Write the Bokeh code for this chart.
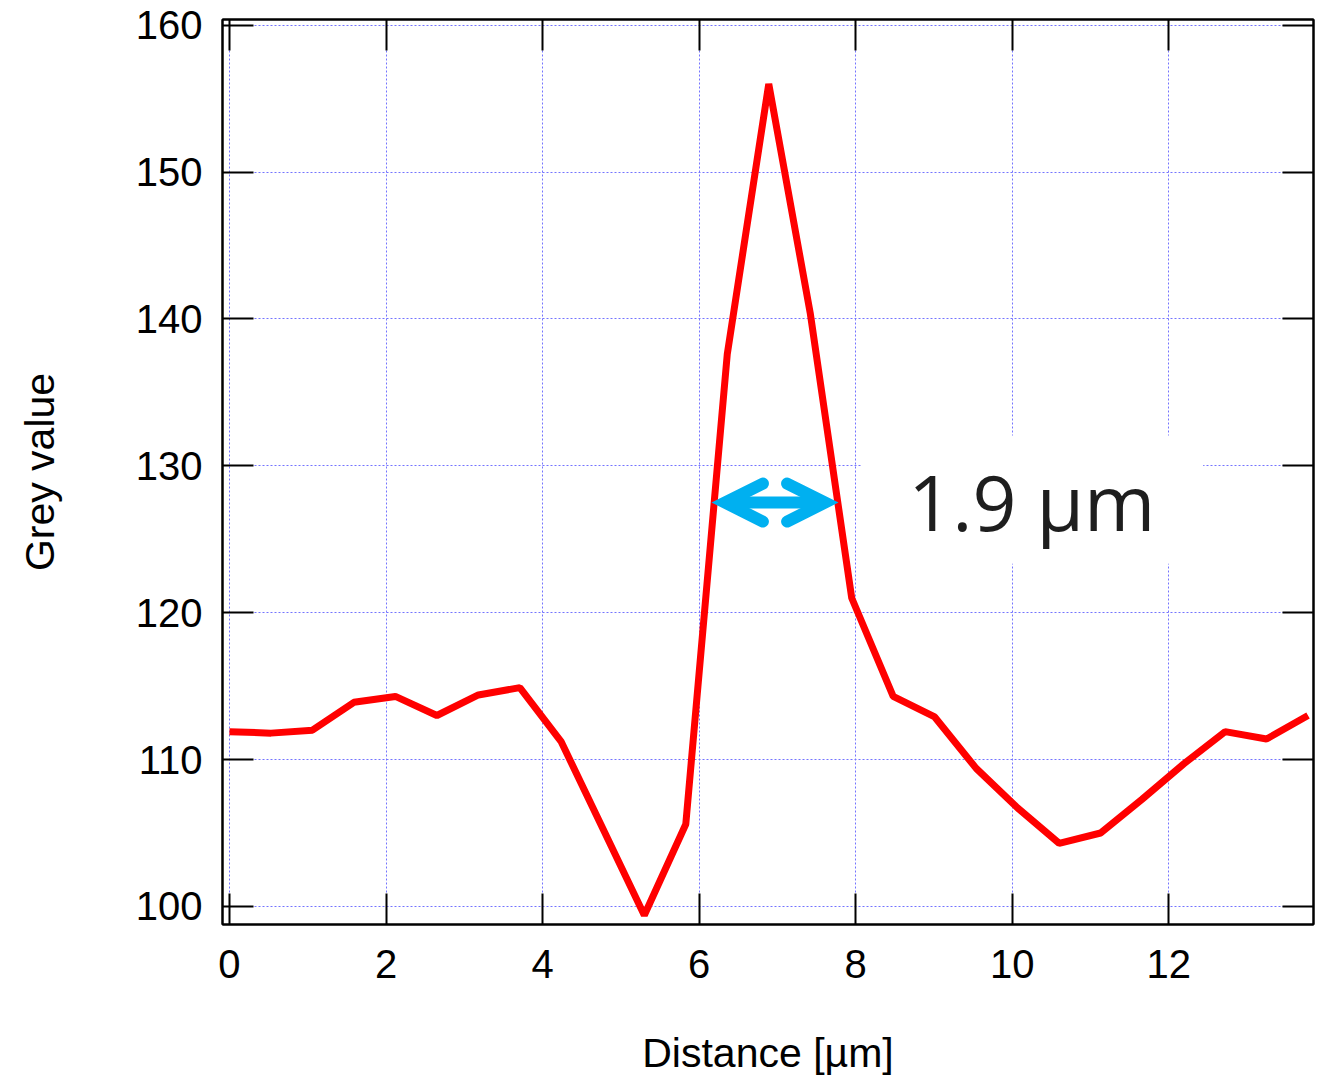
from bokeh.plotting import figure
from bokeh.models import (LinearAxis, FixedTicker, Arrow, OpenHead, Label,
                          BoxAnnotation, Range1d, CustomJSTickFormatter)
from bokeh.embed import file_html
from bokeh.resources import INLINE

# ---- data ----
distance_um = [i * 0.53 for i in range(27)]
grey_value = [111.9, 111.8, 112.0, 113.9, 114.3, 113.0, 114.4, 114.9, 111.2,
              105.3, 99.4, 105.6, 137.6, 156.0, 140.4, 121.0, 114.3, 112.9,
              109.4, 106.7, 104.3, 105.0, 107.3, 109.7, 111.9, 111.4, 113.0]
x_ticks = [0, 2, 4, 6, 8, 10, 12]
y_ticks = [100, 110, 120, 130, 140, 150, 160]

# FWHM annotation
fwhm_start = 6.33
fwhm_end = 7.61
fwhm_level = 127.5
fwhm_text = "1.9 µm"
label_x = 10.25
label_y = 127.6
label_box = dict(left=8.07, right=12.44, bottom=123.34, top=132.06)

CYAN = "#00B0F0"
TICK_FONT = "Liberation Sans"

p = figure(width=1316, height=1080,
           x_range=Range1d(-0.089, 13.85), y_range=Range1d(98.77, 160.39),
           output_backend="svg", toolbar_location=None,
           min_border_left=222, min_border_right=3,
           min_border_top=19, min_border_bottom=156,
           x_axis_label="Distance [µm]", y_axis_label="Grey value")

p.outline_line_color = "black"
p.outline_line_width = 2
p.background_fill_color = "white"
p.border_fill_color = "white"

for ax, ticks in ((p.xaxis[0], x_ticks), (p.yaxis[0], y_ticks)):
    ax.ticker = FixedTicker(ticks=ticks)
    ax.major_tick_in = 31
    ax.major_tick_out = 0
    ax.minor_tick_in = 0
    ax.minor_tick_out = 0
    ax.major_tick_line_width = 2
    ax.major_tick_line_color = "black"
    ax.axis_line_color = "black"
    ax.axis_line_width = 2
    ax.major_label_text_font = TICK_FONT
    ax.major_label_text_font_size = "40px"
    ax.major_label_text_color = "black"
    ax.axis_label_text_font = TICK_FONT
    ax.axis_label_text_font_size = "41px"
    ax.axis_label_text_font_style = "normal"
    ax.axis_label_text_color = "black"

p.xaxis[0].major_label_standoff = 25
p.yaxis[0].major_label_standoff = 20
p.xaxis[0].axis_label_standoff = 49
p.yaxis[0].axis_label_standoff = 70

blank = CustomJSTickFormatter(code="return ''")
for side, ticks in (("right", y_ticks), ("above", x_ticks)):
    ax = LinearAxis(ticker=FixedTicker(ticks=ticks), formatter=blank)
    ax.major_tick_in = 31
    ax.major_tick_out = 0
    ax.minor_tick_in = 0
    ax.minor_tick_out = 0
    ax.major_tick_line_width = 2
    ax.major_tick_line_color = "black"
    ax.axis_line_color = "black"
    ax.axis_line_width = 2
    ax.major_label_standoff = 0
    p.add_layout(ax, side)

for g, ticks in ((p.xgrid[0], x_ticks), (p.ygrid[0], y_ticks)):
    g.ticker = FixedTicker(ticks=ticks)
    g.grid_line_color = "#7474ff"
    g.grid_line_alpha = 1.0
    g.grid_line_width = 1
    g.grid_line_dash = "2 2"

p.line(distance_um, grey_value, line_color="#ff0000", line_width=7)

p.add_layout(BoxAnnotation(fill_color="white", fill_alpha=1.0, line_color=None,
                           **label_box))

head_kw = dict(size=38, line_color=CYAN, line_width=12, line_cap="round",
               line_join="miter")
p.add_layout(Arrow(start=OpenHead(**head_kw), end=OpenHead(**head_kw),
                   x_start=fwhm_start, y_start=fwhm_level,
                   x_end=fwhm_end, y_end=fwhm_level,
                   line_color=CYAN, line_width=12))

p.add_layout(Label(x=label_x, y=label_y, text=fwhm_text,
                   text_font="Open Sans", text_font_size="77px",
                   text_align="center", text_baseline="alphabetic",
                   text_color="#1e1e1e"))

open("out.html", "w").write(file_html(p, INLINE))
